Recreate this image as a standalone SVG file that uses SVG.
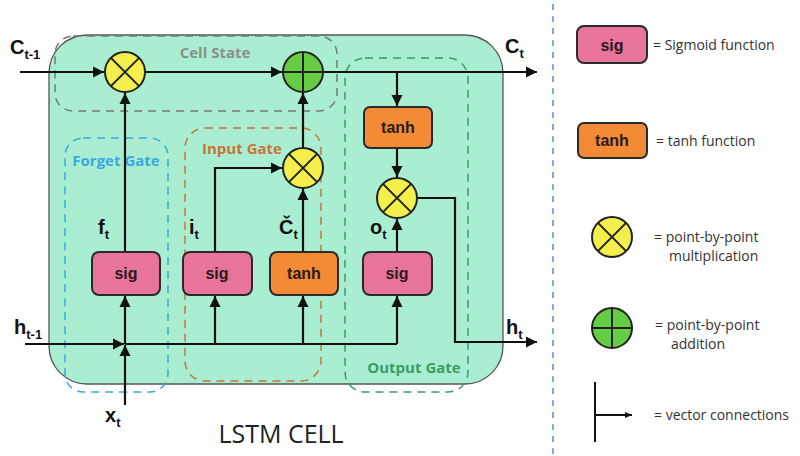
<svg xmlns="http://www.w3.org/2000/svg" width="800" height="456" viewBox="0 0 800 456">
<defs>
<marker id="arr" markerUnits="userSpaceOnUse" markerWidth="12" markerHeight="12" refX="11" refY="6" orient="auto">
<path d="M0,0.5 L11,6 L0,11.5 z" fill="#111"/>
</marker>
<marker id="arrs" markerUnits="userSpaceOnUse" markerWidth="8" markerHeight="8" refX="7" refY="4" orient="auto">
<path d="M0,1 L7,4 L0,7 z" fill="#111"/>
</marker>
<style>
.sig{fill:#e8749c;stroke:#2a2a2a;stroke-width:2}
.tanh{fill:#f28a36;stroke:#2a2a2a;stroke-width:2}
.mul{fill:#f3ef4c;stroke:#222;stroke-width:2}
.add{fill:#66cc44;stroke:#222;stroke-width:2}
.cross{stroke:#222;stroke-width:2}
.bt{font-family:"Liberation Sans",Arial,sans-serif;font-weight:bold;font-size:16px;fill:#2a1a1a;text-anchor:middle}
.lab{font-family:"Liberation Sans",Arial,sans-serif;font-weight:bold;font-size:20px;fill:#111}
.sub{font-size:13px}
.gate{font-family:"Open Sans","Liberation Sans",sans-serif;font-weight:bold;font-size:15px;text-anchor:middle}
.leg{font-family:"Open Sans","Liberation Sans",sans-serif;font-size:14px;fill:#333}
.con{fill:none;stroke:#111;stroke-width:2.2}
</style>
</defs>
<rect width="800" height="456" fill="#fff"/>

<!-- LSTM cell background -->
<g id="cell">
<rect x="49" y="35" width="454" height="349" rx="38" fill="#aaeed2" stroke="#555" stroke-width="1.3"/>
</g>

<!-- gate regions -->
<g id="cell-state-box">
<rect x="55" y="36" width="282" height="75" rx="18" fill="none" stroke="#777" stroke-width="1.5" stroke-dasharray="8,6"/>
<text x="215" y="58" class="gate" fill="#8a8f8a">Cell State</text>
</g>
<g id="forget-gate-box">
<rect x="65" y="138" width="103" height="254" rx="18" fill="none" stroke="#3aa8e2" stroke-width="1.5" stroke-dasharray="8,6"/>
<text x="116" y="166" class="gate" fill="#3aa8e2">Forget Gate</text>
</g>
<g id="input-gate-box">
<rect x="185" y="128" width="136" height="253" rx="20" fill="none" stroke="#c8743a" stroke-width="1.5" stroke-dasharray="8,6"/>
<text x="242" y="154" class="gate" fill="#c8743a">Input Gate</text>
</g>
<g id="output-gate-box">
<rect x="345" y="58" width="123" height="334" rx="20" fill="none" stroke="#3a9e64" stroke-width="1.5" stroke-dasharray="8,6"/>
<text x="414" y="373" class="gate" fill="#3a9e64">Output Gate</text>
</g>

<!-- connectors -->
<g id="connectors">
<path class="con" d="M20,72 H104" marker-end="url(#arr)"/>
<path class="con" d="M145,72 H282" marker-end="url(#arr)"/>
<path class="con" d="M323,72 H537" marker-end="url(#arr)"/>
<path class="con" d="M397,72 V106" marker-end="url(#arr)"/>
<path class="con" d="M397,148 V177" marker-end="url(#arr)"/>
<path class="con" d="M125,252 V93" marker-end="url(#arr)"/>
<path class="con" d="M215,252 V168 H282" marker-end="url(#arr)"/>
<path class="con" d="M303,252 V189" marker-end="url(#arr)"/>
<path class="con" d="M303,148 V93" marker-end="url(#arr)"/>
<path class="con" d="M397,252 V219" marker-end="url(#arr)"/>
<path class="con" d="M417,198 H455 V342 H537" marker-end="url(#arr)"/>
<path class="con" d="M25,344 H124" marker-end="url(#arr)"/>
<path class="con" d="M125,405 V345" marker-end="url(#arr)"/>
<path class="con" d="M125,344 H397"/>
<path class="con" d="M125,344 V296" marker-end="url(#arr)"/>
<path class="con" d="M215,344 V296" marker-end="url(#arr)"/>
<path class="con" d="M303,344 V296" marker-end="url(#arr)"/>
<path class="con" d="M397,344 V296" marker-end="url(#arr)"/>
</g>

<!-- nodes -->
<g id="forget-mul">
<circle cx="125" cy="72" r="20" class="mul"/>
<path class="cross" d="M110.9,57.9 L139.1,86.1 M139.1,57.9 L110.9,86.1"/>
</g>
<g id="cell-add">
<circle cx="303" cy="72" r="20" class="add"/>
<path class="cross" d="M283,72 H323 M303,52 V92"/>
</g>
<g id="input-mul">
<circle cx="303" cy="168" r="20" class="mul"/>
<path class="cross" d="M288.9,153.9 L317.1,182.1 M317.1,153.9 L288.9,182.1"/>
</g>
<g id="output-mul">
<circle cx="397" cy="198" r="20" class="mul"/>
<path class="cross" d="M382.9,183.9 L411.1,212.1 M411.1,183.9 L382.9,212.1"/>
</g>
<g id="output-tanh">
<rect x="364" y="107" width="68" height="41" rx="6" class="tanh"/>
<text x="398" y="133" class="bt">tanh</text>
</g>
<g id="forget-sig">
<rect x="92" y="252" width="68" height="43" rx="7" class="sig"/>
<text x="126" y="279" class="bt">sig</text>
</g>
<g id="input-sig">
<rect x="183" y="252" width="69" height="43" rx="7" class="sig"/>
<text x="217" y="279" class="bt">sig</text>
</g>
<g id="input-tanh">
<rect x="270" y="252" width="68" height="43" rx="7" class="tanh"/>
<text x="304" y="279" class="bt">tanh</text>
</g>
<g id="output-sig">
<rect x="363" y="252" width="69" height="43" rx="7" class="sig"/>
<text x="397" y="279" class="bt">sig</text>
</g>

<!-- labels -->
<g id="labels">
<text x="10" y="54" class="lab">C<tspan class="sub" dy="5">t-1</tspan></text>
<text x="505" y="53" class="lab">C<tspan class="sub" dy="5">t</tspan></text>
<text x="98" y="234" class="lab">f<tspan class="sub" dy="5">t</tspan></text>
<text x="189" y="234" class="lab">i<tspan class="sub" dy="5">t</tspan></text>
<text x="279" y="234" class="lab">Č<tspan class="sub" dy="5">t</tspan></text>
<text x="370" y="234" class="lab">o<tspan class="sub" dy="5">t</tspan></text>
<text x="14" y="334" class="lab">h<tspan class="sub" dy="5">t-1</tspan></text>
<text x="506" y="334" class="lab">h<tspan class="sub" dy="5">t</tspan></text>
<text x="105" y="422" class="lab">x<tspan class="sub" dy="5">t</tspan></text>
<text x="281" y="443" font-family="'Open Sans','Liberation Sans',sans-serif" font-size="25" fill="#222" text-anchor="middle">LSTM CELL</text>
</g>

<!-- divider -->
<line x1="553" y1="4" x2="553" y2="456" stroke="#5b8fd0" stroke-width="1.5" stroke-dasharray="6,6"/>

<!-- legend -->
<g id="legend-sig">
<rect x="577" y="26" width="70" height="37" rx="7" class="sig"/>
<text x="612" y="51" class="bt">sig</text>
<text x="653" y="50" class="leg">= Sigmoid function</text>
</g>
<g id="legend-tanh">
<rect x="578" y="123" width="69" height="35" rx="6" class="tanh"/>
<text x="612" y="146" class="bt">tanh</text>
<text x="656" y="146" class="leg">= tanh function</text>
</g>
<g id="legend-mul">
<circle cx="612" cy="237" r="20" class="mul"/>
<path class="cross" d="M597.9,222.9 L626.1,251.1 M626.1,222.9 L597.9,251.1"/>
<text x="654" y="242" class="leg">= point-by-point</text>
<text x="669" y="261" class="leg">multiplication</text>
</g>
<g id="legend-add">
<circle cx="612" cy="328" r="20" class="add"/>
<path class="cross" d="M592,328 H632 M612,308 V348"/>
<text x="655" y="330" class="leg">= point-by-point</text>
<text x="671" y="349" class="leg">addition</text>
</g>
<g id="legend-vector">
<path d="M595,382 V442" stroke="#111" stroke-width="2" fill="none"/>
<path d="M595,415 H632" stroke="#111" stroke-width="2" fill="none" marker-end="url(#arrs)"/>
<text x="654" y="420" class="leg">= vector connections</text>
</g>
</svg>
